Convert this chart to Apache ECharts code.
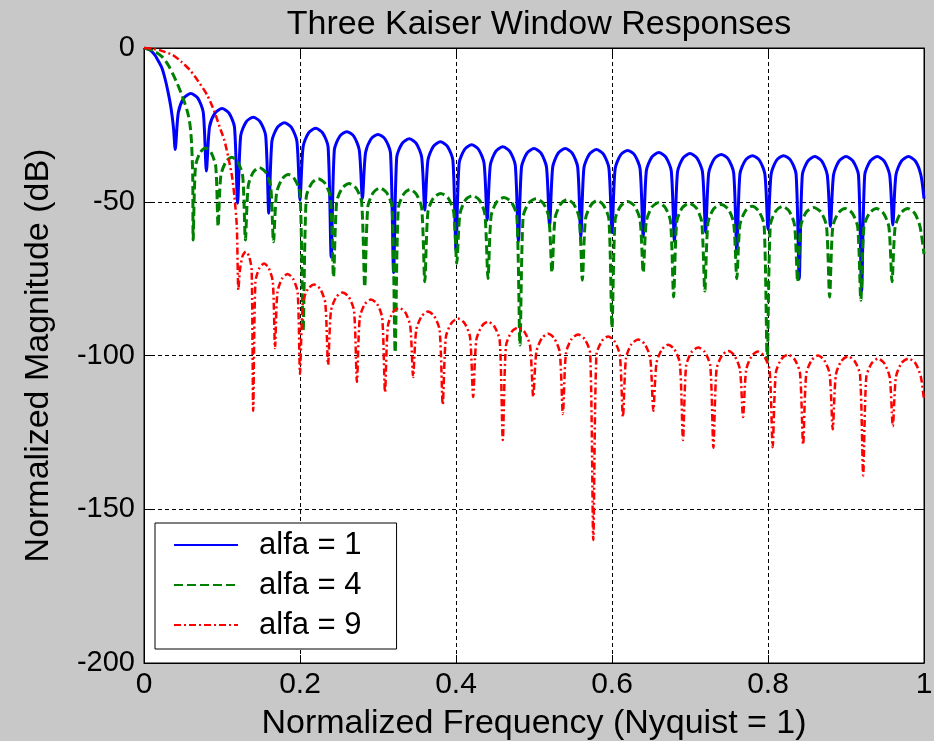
<!DOCTYPE html>
<html>
<head>
<meta charset="utf-8">
<script src="https://cdn.jsdelivr.net/npm/echarts@6/dist/echarts.min.js"></script>
<style>
html,body{margin:0;padding:0;background:#c8c8c8;}
#chart{width:934px;height:741px;}
</style>
</head>
<body>
<div id="chart"></div>
<script>
// Values: [normalized frequency, magnitude dB]
const xTicks = [0, 0.2, 0.4, 0.6, 0.8, 1];
const yTicks = [-200, -150, -100, -50, 0];
const seriesNames = ['alfa = 1', 'alfa = 4', 'alfa = 9'];

const alfa1 = [
[0,0],[0.008,-0.7],[0.014,-2.3],[0.019,-4.5],[0.023,-6.5],[0.027,-10],[0.031,-14.5],[0.034,-18.5],[0.036,-22],[0.038,-26.5],[0.04,-33],
[0.044,-21],[0.051,-16.3],[0.06,-14.8],[0.069,-16.3],[0.076,-21],[0.08,-40],
[0.084,-25.7],[0.091,-21.2],[0.1,-19.7],[0.109,-21.2],[0.116,-25.7],[0.12,-50.5],
[0.124,-28.5],[0.131,-24],[0.14,-22.5],[0.149,-24],[0.156,-28.5],[0.16,-53.7],
[0.164,-30.3],[0.171,-25.8],[0.18,-24.3],[0.189,-25.8],[0.196,-30.3],[0.2,-49.5],
[0.204,-32.1],[0.211,-27.6],[0.22,-26.1],[0.229,-27.6],[0.236,-32.1],[0.24,-68],
[0.244,-33.2],[0.251,-28.7],[0.26,-27.2],[0.269,-28.7],[0.276,-33.2],[0.28,-49],
[0.284,-34.1],[0.291,-29.6],[0.3,-28.1],[0.309,-29.6],[0.316,-34.1],[0.32,-73],
[0.324,-35.5],[0.331,-31],[0.34,-29.5],[0.349,-31],[0.356,-35.5],[0.36,-52.7],
[0.364,-36.5],[0.371,-32],[0.38,-30.5],[0.389,-32],[0.396,-36.5],[0.4,-65.7],
[0.404,-37.5],[0.411,-33],[0.42,-31.5],[0.429,-33],[0.436,-37.5],[0.44,-56],
[0.444,-38.1],[0.451,-33.6],[0.46,-32.1],[0.469,-33.6],[0.476,-38.1],[0.48,-63],
[0.484,-38.7],[0.491,-34.2],[0.5,-32.7],[0.509,-34.2],[0.516,-38.7],[0.52,-58],
[0.524,-38.7],[0.531,-34.2],[0.54,-32.7],[0.549,-34.2],[0.556,-38.7],[0.56,-61.5],
[0.564,-39],[0.571,-34.5],[0.58,-33],[0.589,-34.5],[0.596,-39],[0.6,-60],
[0.604,-39.3],[0.611,-34.8],[0.62,-33.3],[0.629,-34.8],[0.636,-39.3],[0.64,-61.5],
[0.644,-40],[0.651,-35.5],[0.66,-34],[0.669,-35.5],[0.676,-40],[0.68,-63],
[0.684,-40.3],[0.691,-35.8],[0.7,-34.3],[0.709,-35.8],[0.716,-40.3],[0.72,-60],
[0.724,-40.6],[0.731,-36.1],[0.74,-34.6],[0.749,-36.1],[0.756,-40.6],[0.76,-66],
[0.764,-41],[0.771,-36.5],[0.78,-35],[0.789,-36.5],[0.796,-41],[0.8,-59],
[0.804,-41],[0.811,-36.5],[0.82,-35],[0.829,-36.5],[0.836,-41],[0.84,-75],
[0.844,-41.3],[0.851,-36.8],[0.86,-35.3],[0.869,-36.8],[0.876,-41.3],[0.88,-58],
[0.884,-41.3],[0.891,-36.8],[0.9,-35.3],[0.909,-36.8],[0.916,-41.3],[0.92,-79],
[0.924,-41.3],[0.931,-36.8],[0.94,-35.3],[0.949,-36.8],[0.956,-41.3],[0.96,-57.6],
[0.964,-41.3],[0.971,-36.8],[0.98,-35.3],[0.989,-36.8],[0.996,-41.3],[1.0,-49]
];

const alfa4 = [
[0,0],[0.012,-0.9],[0.023,-2.8],[0.031,-5.5],[0.038,-9],[0.045,-13],[0.051,-17],[0.056,-21],[0.059,-25],[0.061,-31],[0.0625,-42],[0.063,-62.4],
[0.066,-38.5],[0.072,-34],[0.079,-32.5],[0.086,-34],[0.092,-38.5],[0.095,-58],
[0.0985,-41.5],[0.105,-37],[0.1125,-35.5],[0.12,-37],[0.1265,-41.5],[0.13,-62.4],
[0.1336,-44.9],[0.14,-40.4],[0.148,-38.9],[0.156,-40.4],[0.1624,-44.9],[0.166,-63],
[0.17,-47.1],[0.177,-42.6],[0.185,-41.1],[0.193,-42.6],[0.2,-47.1],[0.204,-92],
[0.208,-48.5],[0.215,-44],[0.2235,-42.5],[0.232,-44],[0.239,-48.5],[0.243,-74.5],
[0.247,-50.1],[0.254,-45.6],[0.263,-44.1],[0.272,-45.6],[0.279,-50.1],[0.283,-77.7],
[0.287,-51.5],[0.294,-47],[0.3025,-45.5],[0.311,-47],[0.318,-51.5],[0.322,-99],
[0.326,-52],[0.333,-47.5],[0.341,-46],[0.349,-47.5],[0.356,-52],[0.36,-76],
[0.364,-53.3],[0.371,-48.8],[0.3805,-47.3],[0.39,-48.8],[0.397,-53.3],[0.401,-70],
[0.405,-54],[0.412,-49.5],[0.421,-48],[0.43,-49.5],[0.437,-54],[0.441,-75],
[0.445,-54.6],[0.452,-50.1],[0.4615,-48.6],[0.471,-50.1],[0.478,-54.6],[0.482,-96.6],
[0.486,-55],[0.493,-50.5],[0.5025,-49],[0.512,-50.5],[0.519,-55],[0.523,-73],
[0.527,-55.3],[0.534,-50.8],[0.5425,-49.3],[0.551,-50.8],[0.558,-55.3],[0.562,-75.5],
[0.566,-55.6],[0.573,-51.1],[0.581,-49.6],[0.589,-51.1],[0.596,-55.6],[0.6,-91],
[0.604,-55.9],[0.611,-51.4],[0.62,-49.9],[0.629,-51.4],[0.636,-55.9],[0.64,-73],
[0.644,-56.3],[0.651,-51.8],[0.6595,-50.3],[0.668,-51.8],[0.675,-56.3],[0.679,-81],
[0.683,-56.5],[0.69,-52],[0.699,-50.5],[0.708,-52],[0.715,-56.5],[0.719,-79],
[0.723,-56.9],[0.73,-52.4],[0.7395,-50.9],[0.749,-52.4],[0.756,-56.9],[0.76,-75],
[0.764,-57.5],[0.771,-53],[0.7795,-51.5],[0.788,-53],[0.795,-57.5],[0.799,-102],
[0.803,-57.5],[0.81,-53],[0.8185,-51.5],[0.827,-53],[0.834,-57.5],[0.838,-76],
[0.842,-57.9],[0.849,-53.4],[0.8585,-51.9],[0.868,-53.4],[0.875,-57.9],[0.879,-81],
[0.883,-58.2],[0.89,-53.7],[0.899,-52.2],[0.908,-53.7],[0.915,-58.2],[0.919,-82],
[0.923,-58.2],[0.93,-53.7],[0.939,-52.2],[0.948,-53.7],[0.955,-58.2],[0.959,-76],
[0.963,-58.2],[0.97,-53.7],[0.979,-52.2],[0.988,-53.7],[0.995,-58.2],[1.0,-67]
];

const alfa9 = [
[0,0],[0.01,-0.2],[0.02,-0.7],[0.037,-2.3],[0.048,-4.5],[0.059,-7.2],[0.07,-11],[0.081,-15.3],[0.09,-20.5],[0.097,-25.7],[0.103,-30],[0.108,-35.4],[0.113,-42],[0.116,-48.5],[0.119,-58],[0.121,-78.7],
[0.123,-72.2],[0.1263,-67.7],[0.1305,-66.2],[0.1347,-67.7],[0.138,-72.2],[0.14,-118],
[0.1428,-76.1],[0.1478,-71.6],[0.154,-70.1],[0.16,-71.6],[0.1652,-76.1],[0.168,-97.6],
[0.171,-79.5],[0.177,-75],[0.184,-73.5],[0.191,-75],[0.197,-79.5],[0.2,-106],
[0.2036,-82.9],[0.21,-78.4],[0.218,-76.9],[0.226,-78.4],[0.2324,-82.9],[0.236,-103],
[0.2397,-85.5],[0.2464,-81],[0.2545,-79.5],[0.2626,-81],[0.2693,-85.5],[0.273,-108.6],
[0.2766,-87.8],[0.283,-83.3],[0.291,-81.8],[0.299,-83.3],[0.3054,-87.8],[0.309,-112],
[0.3126,-90.5],[0.319,-86],[0.327,-84.5],[0.335,-86],[0.3414,-90.5],[0.345,-107],
[0.349,-91.7],[0.356,-87.2],[0.364,-85.7],[0.372,-87.2],[0.379,-91.7],[0.383,-116],
[0.387,-94],[0.394,-89.5],[0.4025,-88],[0.411,-89.5],[0.418,-94],[0.422,-113.5],
[0.426,-95],[0.433,-90.5],[0.441,-89],[0.449,-90.5],[0.456,-95],[0.46,-127.5],
[0.464,-96.9],[0.471,-92.4],[0.4795,-90.9],[0.488,-92.4],[0.495,-96.9],[0.499,-113.5],
[0.503,-98.9],[0.51,-94.4],[0.518,-92.9],[0.526,-94.4],[0.533,-98.9],[0.537,-119],
[0.541,-99.2],[0.548,-94.7],[0.5565,-93.2],[0.565,-94.7],[0.572,-99.2],[0.576,-160],
[0.58,-99.8],[0.587,-95.3],[0.595,-93.8],[0.603,-95.3],[0.61,-99.8],[0.614,-120],
[0.618,-100.8],[0.625,-96.3],[0.6335,-94.8],[0.642,-96.3],[0.649,-100.8],[0.653,-118],
[0.657,-102.5],[0.664,-98],[0.672,-96.5],[0.68,-98],[0.687,-102.5],[0.691,-127.5],
[0.695,-103.4],[0.702,-98.9],[0.7105,-97.4],[0.719,-98.9],[0.726,-103.4],[0.73,-130],
[0.734,-104.5],[0.741,-100],[0.749,-98.5],[0.757,-100],[0.764,-104.5],[0.768,-120],
[0.772,-104.7],[0.779,-100.2],[0.787,-98.7],[0.795,-100.2],[0.802,-104.7],[0.806,-129.8],
[0.81,-105.7],[0.817,-101.2],[0.8255,-99.7],[0.834,-101.2],[0.841,-105.7],[0.845,-129],
[0.849,-106],[0.856,-101.5],[0.864,-100],[0.872,-101.5],[0.879,-106],[0.883,-124],
[0.887,-106.3],[0.894,-101.8],[0.9025,-100.3],[0.911,-101.8],[0.918,-106.3],[0.922,-139],
[0.926,-107],[0.933,-102.5],[0.941,-101],[0.949,-102.5],[0.956,-107],[0.96,-123],
[0.964,-107],[0.971,-102.5],[0.98,-101],[0.989,-102.5],[0.996,-107],[1.0,-114.5]
];

const FONT = 'Liberation Sans, Arial, Helvetica, sans-serif';
const chart = echarts.init(document.getElementById('chart'), null, {renderer: 'canvas'});

const xMin = xTicks[0], xMax = xTicks[xTicks.length - 1], xInt = xTicks[1] - xTicks[0];
const yMin = yTicks[0], yMax = yTicks[yTicks.length - 1], yInt = yTicks[1] - yTicks[0];

const option = {
  animation: false,
  backgroundColor: '#c8c8c8',
  title: {
    text: 'Three Kaiser Window Responses',
    left: 534, top: 3, textAlign: 'center',
    textStyle: {fontFamily: FONT, fontSize: 34, fontWeight: 'normal', color: '#000'}
  },
  legend: {
    orient: 'vertical', left: 155, top: 523,
    data: seriesNames,
    backgroundColor: '#fff', borderColor: '#000', borderWidth: 1, borderRadius: 0,
    padding: [6, 35, 8, 18], itemGap: 8, itemWidth: 64, itemHeight: 14,
    itemStyle: {color: 'rgba(0,0,0,0)', opacity: 0, borderWidth: 0},
    textStyle: {fontFamily: FONT, fontSize: 31, color: '#000', lineHeight: 32, padding: [0, 0, 0, 16]}
  },
  grid: {
    left: 144, right: 10, top: 48, bottom: 78,
    containLabel: false, outerBoundsMode: 'none',
    show: true, backgroundColor: '#fff', borderColor: '#000', borderWidth: 1
  },
  xAxis: [{
    type: 'value', min: xMin, max: xMax, interval: xInt,
    name: 'Normalized Frequency (Nyquist = 1)', nameLocation: 'middle', nameGap: 44,
    nameTextStyle: {fontFamily: FONT, fontSize: 34, color: '#000'},
    axisLine: {show: true, onZero: false, lineStyle: {color: '#000', width: 1}},
    axisTick: {show: true, inside: true, length: 8, lineStyle: {color: '#000'}},
    axisLabel: {fontFamily: FONT, fontSize: 30, color: '#000', margin: 7},
    splitLine: {show: true, lineStyle: {color: '#000', type: [4, 3], width: 1}}
  }, {
    type: 'value', position: 'top', min: xMin, max: xMax, interval: xInt,
    axisLine: {show: true, onZero: false, lineStyle: {color: '#000'}},
    axisTick: {show: true, inside: true, length: 8, lineStyle: {color: '#000'}},
    axisLabel: {show: false}, splitLine: {show: false}
  }],
  yAxis: [{
    type: 'value', min: yMin, max: yMax, interval: yInt,
    name: 'Normalized Magnitude (dB)', nameLocation: 'middle', nameGap: 88,
    nameTextStyle: {fontFamily: FONT, fontSize: 34, color: '#000'},
    axisLine: {show: true, onZero: false, lineStyle: {color: '#000', width: 1}},
    axisTick: {show: true, inside: true, length: 8, lineStyle: {color: '#000'}},
    axisLabel: {fontFamily: FONT, fontSize: 29, color: '#000', margin: 9},
    splitLine: {show: true, lineStyle: {color: '#000', type: [4, 3], width: 1}}
  }, {
    type: 'value', position: 'right', min: yMin, max: yMax, interval: yInt,
    axisLine: {show: true, onZero: false, lineStyle: {color: '#000'}},
    axisTick: {show: true, inside: true, length: 8, lineStyle: {color: '#000'}},
    axisLabel: {show: false}, splitLine: {show: false}
  }],
  series: [
    {name: seriesNames[0], type: 'line', data: alfa1, symbol: 'none', smooth: 0.25,
     lineStyle: {color: '#0000ff', width: 3, type: 'solid'}, itemStyle: {color: '#0000ff'}},
    {name: seriesNames[1], type: 'line', data: alfa4, symbol: 'none', smooth: 0.25,
     lineStyle: {color: '#008000', width: 3, type: [9, 4]}, itemStyle: {color: '#008000'}},
    {name: seriesNames[2], type: 'line', data: alfa9, symbol: 'none', smooth: 0.25,
     lineStyle: {color: '#ff0000', width: 2.5, type: [7, 3, 2, 3]}, itemStyle: {color: '#ff0000'}}
  ]
};
chart.setOption(option);
</script>
</body>
</html>
